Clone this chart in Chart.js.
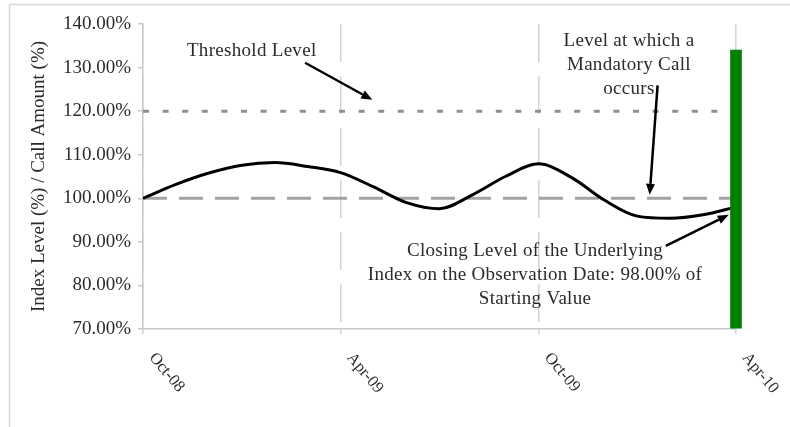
<!DOCTYPE html>
<html>
<head>
<meta charset="utf-8">
<script src="https://cdn.jsdelivr.net/npm/chart.js@4.4.1/dist/chart.umd.min.js"></script>
<style>
  html, body { margin: 0; padding: 0; background: #ffffff; }
  canvas { display: block; }
</style>
</head>
<body>
<canvas id="chart" width="790" height="427"></canvas>
<script>
// Months elapsed since Oct-08
const months = [0, 1, 2, 3, 4, 5, 6, 7, 8, 9, 10, 11, 12, 13, 14, 15, 16, 17, 18];
// Index level, % of starting value
const indexLevel = [100.0, 103.2, 105.8, 107.6, 108.2, 107.3, 105.9, 102.6, 99.0, 97.6,
                    100.8, 105.0, 107.9, 104.8, 99.6, 95.9, 95.4, 96.2, 98.0];
const thresholdLevel = 120;   // Threshold Level
const startingLevel = 100;    // Mandatory call level
const observationMonth = 18;  // Observation date (Apr-10)
const callAmount = 134;       // Call amount at the observation date

const xTickMonths = [0, 6, 12, 18];
const xTickLabels = ['Oct-08', 'Apr-09', 'Oct-09', 'Apr-10'];
const yMin = 70, yMax = 140, yStep = 10;
const yTitle = 'Index Level (%) / Call Amount (%)';

// Callout texts and arrows, placed in axis units
const notes = [
  { lines: ['Threshold Level'], at: [3.3, 133.7] },
  { lines: ['Level at which a', 'Mandatory Call', 'occurs'], at: [14.75, 136.0] },
  { lines: ['Closing Level of the Underlying', 'Index on the Observation Date: 98.00% of', 'Starting Value'], at: [11.9, 87.8] }
];
const arrows = [
  { from: [4.92, 131.1], to: [6.96, 122.6] },
  { from: [15.62, 125.9], to: [15.38, 100.8] },
  { from: [15.87, 89.1], to: [17.78, 96.2] }
];

const SERIF = '"Liberation Serif", "Times New Roman", serif';
const TEXT = '#2b2b2b';
const AXIS = '#c8c8c8';

function drawArrow(ctx, x1, y1, x2, y2) {
  const ang = Math.atan2(y2 - y1, x2 - x1);
  const head = 11, half = 4.5;
  const bx = x2 - head * Math.cos(ang), by = y2 - head * Math.sin(ang);
  ctx.beginPath();
  ctx.moveTo(x1, y1);
  ctx.lineTo(bx, by);
  ctx.stroke();
  ctx.beginPath();
  ctx.moveTo(x2, y2);
  ctx.lineTo(bx + half * Math.sin(ang), by - half * Math.cos(ang));
  ctx.lineTo(bx - half * Math.sin(ang), by + half * Math.cos(ang));
  ctx.closePath();
  ctx.fill();
}

const annotate = {
  id: 'annotate',
  beforeDraw(chart) {
    const { ctx, width, height } = chart;
    ctx.save();
    ctx.strokeStyle = '#d9d9d9';
    ctx.lineWidth = 1.5;
    ctx.beginPath();
    ctx.moveTo(9.5, height);
    ctx.lineTo(9.5, 4.5);
    ctx.lineTo(width, 4.5);
    ctx.stroke();
    ctx.restore();
  },
  afterDatasetsDraw(chart) {
    const { ctx } = chart;
    const xs = chart.scales.x, ys = chart.scales.y;
    ctx.save();
    ctx.fillStyle = TEXT;
    ctx.font = '19px ' + SERIF;
    if ('letterSpacing' in ctx) ctx.letterSpacing = '0.3px';
    ctx.textAlign = 'center';
    ctx.textBaseline = 'middle';
    notes.forEach(n => {
      const px = xs.getPixelForValue(n.at[0]);
      const py = ys.getPixelForValue(n.at[1]);
      n.lines.forEach((t, i) => ctx.fillText(t, px, py + i * 24));
    });
    if ('letterSpacing' in ctx) ctx.letterSpacing = '0px';

    ctx.strokeStyle = '#000000';
    ctx.fillStyle = '#000000';
    ctx.lineWidth = 2.5;
    arrows.forEach(a => {
      drawArrow(ctx,
        xs.getPixelForValue(a.from[0]), ys.getPixelForValue(a.from[1]),
        xs.getPixelForValue(a.to[0]), ys.getPixelForValue(a.to[1]));
    });

    // Slanted month labels under the x axis
    ctx.fillStyle = TEXT;
    ctx.font = '16.5px ' + SERIF;
    ctx.textAlign = 'left';
    ctx.textBaseline = 'middle';
    xTickMonths.forEach((m, i) => {
      const px = xs.getPixelForValue(m);
      ctx.save();
      ctx.translate(px + 9, xs.top + 26);
      ctx.rotate(50 * Math.PI / 180);
      ctx.fillText(xTickLabels[i], 0, 0);
      ctx.restore();
    });
    ctx.restore();
  }
};

new Chart(document.getElementById('chart'), {
  type: 'line',
  data: {
    datasets: [
      {
        type: 'bar',
        label: 'Call Amount',
        data: [{ x: observationMonth, y: callAmount }],
        backgroundColor: '#008000',
        borderWidth: 0,
        barThickness: 11,
        base: yMin,
        clip: { left: 0, top: 0, right: 10, bottom: 0 },
        order: 0
      },
      {
        label: 'Index Level',
        data: months.map((m, i) => ({ x: m, y: indexLevel[i] })),
        borderColor: '#000000',
        borderWidth: 3,
        pointRadius: 0,
        cubicInterpolationMode: 'monotone',
        fill: false,
        order: 1
      },
      {
        label: 'Mandatory Call Level',
        data: [{ x: months[0], y: startingLevel }, { x: observationMonth, y: startingLevel }],
        borderColor: '#a3a3a3',
        borderWidth: 3,
        borderDash: [24, 12],
        pointRadius: 0,
        fill: false,
        order: 2
      },
      {
        label: 'Threshold Level',
        data: [{ x: months[0], y: thresholdLevel }, { x: observationMonth, y: thresholdLevel }],
        borderColor: '#8f8f8f',
        borderWidth: 3,
        borderDash: [6, 13.6],
        pointRadius: 0,
        fill: false,
        order: 3
      }
    ]
  },
  options: {
    responsive: false,
    animation: false,
    devicePixelRatio: 1,
    layout: { padding: { top: 24, right: 54, bottom: 0, left: 0 } },
    plugins: {
      legend: { display: false },
      tooltip: { enabled: false },
      title: { display: false }
    },
    scales: {
      x: {
        type: 'linear',
        min: months[0],
        max: observationMonth,
        offset: false,
        afterBuildTicks(scale) {
          scale.ticks = xTickMonths.map(v => ({ value: v }));
        },
        afterFit(scale) { scale.height = 98; },
        ticks: { display: false },
        grid: {
          display: true,
          drawOnChartArea: true,
          drawTicks: true,
          tickLength: 5,
          color: '#d4d4d4',
          lineWidth: 1.5,
          offset: false
        },
        border: { display: true, color: AXIS, width: 1.5, dash: [38, 14] }
      },
      y: {
        type: 'linear',
        min: yMin,
        max: yMax,
        afterFit(scale) { scale.width = 143; },
        ticks: {
          stepSize: yStep,
          padding: 7,
          color: TEXT,
          font: { family: SERIF, size: 19 },
          callback: v => v.toFixed(2) + '%'
        },
        grid: {
          drawOnChartArea: false,
          drawTicks: true,
          tickLength: 5,
          color: AXIS,
          lineWidth: 1.5
        },
        border: { display: true, color: AXIS, width: 1.5 },
        title: {
          display: true,
          text: yTitle,
          color: TEXT,
          font: { family: SERIF, size: 19 },
          padding: { top: 28, bottom: 0 }
        }
      }
    }
  },
  plugins: [annotate]
});
</script>
</body>
</html>
